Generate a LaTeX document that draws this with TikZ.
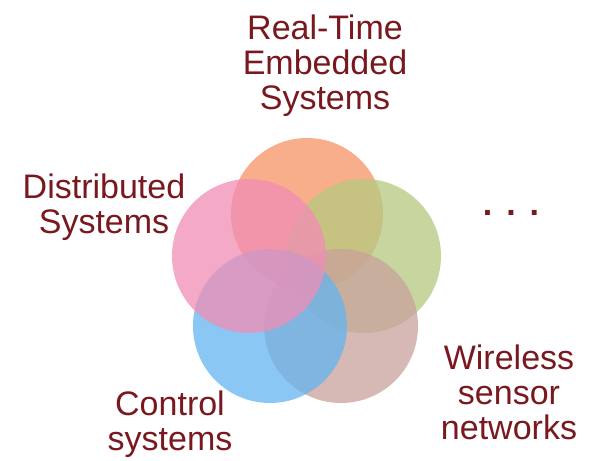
\documentclass[tikz,border=0pt]{standalone}
\usepackage{fontspec}
\setmainfont{Liberation Sans}
\usepackage{tikz}
\definecolor{txtred}{RGB}{122,24,32}
\definecolor{rtorange}{RGB}{248,148,101}
\definecolor{dspink}{RGB}{241,141,181}
\definecolor{wsgreen}{RGB}{181,201,128}
\definecolor{csblue}{RGB}{101,181,241}
\definecolor{wnbrown}{RGB}{201,161,155}

\begin{document}
\begin{tikzpicture}[x=1pt,y=-1pt,
    txt/.style={align=center,inner sep=0pt,text=txtred,font=\fontsize{34}{35}\selectfont},
    disc/.style={fill opacity=0.75}]
    \useasboundingbox (0,0) rectangle (591,460);
    \fill[white] (0,0) rectangle (591,460);
    % the five fields
    \fill[disc,rtorange] (307,214) circle (76);
    \fill[disc,wsgreen] (364,256) circle (77);
    \fill[disc,wnbrown] (341,326) circle (77);
    \fill[disc,csblue] (270,326) circle (77);
    \fill[disc,dspink] (249,256) circle (77);
    % labels
    \node[txt] (rtes) at (325,66) {Real-Time\\Embedded\\Systems};
    \node[txt] (dist) at (104,207) {Distributed\\Systems};
    \node[txt] (ctrl) at (170,424) {Control\\systems};
    \node[txt] (wsn) at (509,392) {Wireless\\sensor\\networks};
    \node[txt,font=\fontsize{34}{35}\bfseries] (more) at (511,213) {.\hspace{14pt}.\hspace{14pt}.};
\end{tikzpicture}
\end{document}
